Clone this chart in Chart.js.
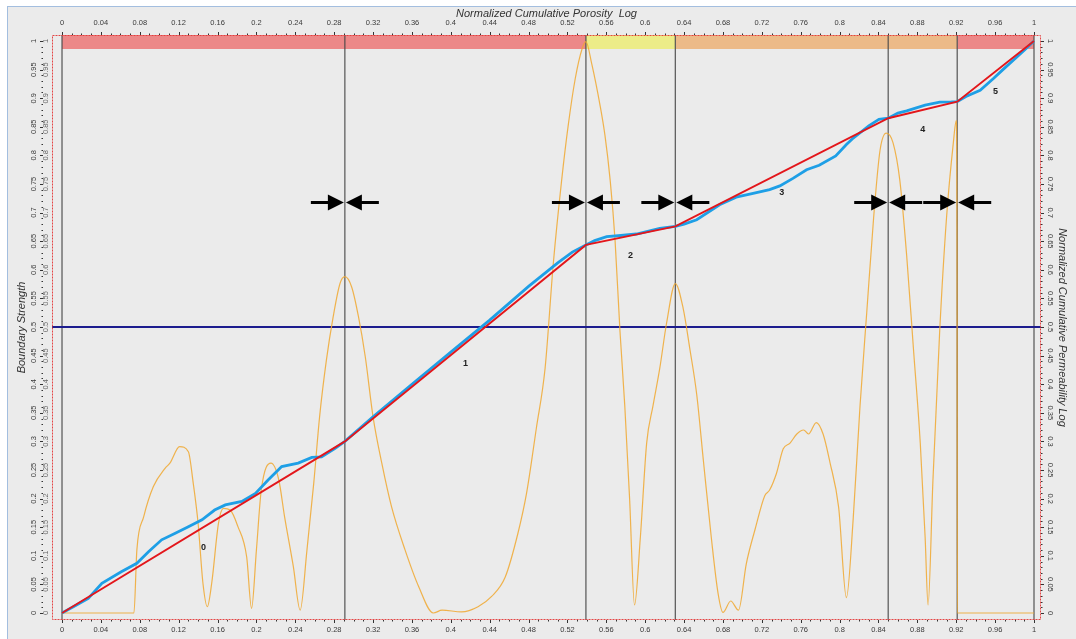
<!DOCTYPE html>
<html>
<head>
<meta charset="utf-8">
<script src="https://cdn.jsdelivr.net/npm/chart.js@4/dist/chart.umd.min.js"></script>
<style>
  html, body { margin: 0; padding: 0; background: #ffffff; overflow: hidden; }
  #panel { position: absolute; left: 7px; top: 6px; width: 1100px; height: 700px; background: #EBEBEB; border: 1px solid #A3BEDF; }
  #wrap { position: absolute; left: 0; top: 0; width: 1076px; height: 639px; }
</style>
</head>
<body>
<div id="panel"></div>
<div id="wrap"><canvas id="chart" width="1076" height="639"></canvas></div>
<script>
// Tick labels
const xTickLabels = ['0','0.04','0.08','0.12','0.16','0.2','0.24','0.28','0.32','0.36','0.4','0.44','0.48',
  '0.52','0.56','0.6','0.64','0.68','0.72','0.76','0.8','0.84','0.88','0.92','0.96','1'];
const yTickLabels = ['0','0.05','0.1','0.15','0.2','0.25','0.3','0.35','0.4','0.45','0.5',
  '0.55','0.6','0.65','0.7','0.75','0.8','0.85','0.9','0.95','1'];

// Zone boundaries (picked breaks) and the fitted piecewise-linear trend
const boundaryX = [0, 0.291, 0.539, 0.631, 0.850, 0.921, 1];
const boundaryY = [0, 0.300, 0.6435, 0.676, 0.865, 0.894, 1];
const segmentNames = ['0', '1', '2', '3', '4', '5'];

// Zone colour strip
const zoneStart = [0, 0.539, 0.631, 0.921];
const zoneEnd = [0.539, 0.631, 0.921, 1];
const zoneColors = ['#EC8888', '#ECEC88', '#ECBA88', '#EC8888'];

// Cumulative porosity (x) vs cumulative permeability (y)
const cumPorosity = [0, 0.014, 0.027, 0.041, 0.061, 0.077, 0.089, 0.1025, 0.116, 0.130,
  0.144, 0.157, 0.168, 0.185, 0.199, 0.212, 0.226, 0.243, 0.257, 0.267,
  0.281, 0.291, 0.32, 0.36, 0.40, 0.44, 0.48, 0.51, 0.525, 0.539,
  0.548, 0.5604, 0.575, 0.591, 0.615, 0.631, 0.640, 0.653, 0.6765, 0.6936,
  0.711, 0.728, 0.7385, 0.752, 0.766, 0.779, 0.796, 0.807, 0.813, 0.830,
  0.8405, 0.850, 0.860, 0.869, 0.888, 0.903, 0.915, 0.921, 0.930, 0.9446,
  0.958, 0.968, 0.979, 0.99, 1];
const cumPermeability = [0, 0.013, 0.0257, 0.052, 0.072, 0.087, 0.107, 0.128, 0.139, 0.151,
  0.163, 0.180, 0.189, 0.195, 0.209, 0.2325, 0.256, 0.262, 0.272, 0.273,
  0.288, 0.300, 0.343, 0.400, 0.456, 0.512, 0.571, 0.612, 0.631, 0.6435,
  0.651, 0.658, 0.660, 0.6626, 0.6724, 0.676, 0.680, 0.6876, 0.7138, 0.727,
  0.7335, 0.7401, 0.7467, 0.7598, 0.7749, 0.7828, 0.7992, 0.8189, 0.8287, 0.8517,
  0.863, 0.865, 0.874, 0.878, 0.888, 0.893, 0.8935, 0.894, 0.903, 0.914,
  0.934, 0.950, 0.9668, 0.984, 1];

// Boundary strength curve
const strengthX = [0, 0.074, 0.077, 0.084, 0.094, 0.106, 0.111, 0.121, 0.130, 0.135,
  0.140, 0.145, 0.1495, 0.154, 0.161, 0.166, 0.173, 0.181, 0.190, 0.195,
  0.200, 0.205, 0.215, 0.223, 0.229, 0.238, 0.245, 0.252, 0.259, 0.265,
  0.272, 0.279, 0.286, 0.291, 0.298, 0.305, 0.312, 0.320, 0.329, 0.339,
  0.353, 0.367, 0.382, 0.391, 0.411, 0.428, 0.442, 0.456, 0.469, 0.478,
  0.488, 0.497, 0.5055, 0.514, 0.521, 0.528, 0.535, 0.539, 0.545, 0.5535,
  0.5586, 0.564, 0.569, 0.574, 0.579, 0.584, 0.589, 0.595, 0.6015, 0.608,
  0.615, 0.622, 0.631, 0.639, 0.646, 0.653, 0.660, 0.668, 0.675, 0.680,
  0.688, 0.696, 0.704, 0.713, 0.723, 0.728, 0.735, 0.742, 0.749, 0.756,
  0.763, 0.768, 0.776, 0.783, 0.790, 0.799, 0.807, 0.814, 0.821, 0.828,
  0.835, 0.8416, 0.848, 0.855, 0.862, 0.869, 0.876, 0.883, 0.888, 0.891,
  0.896, 0.903, 0.910, 0.917, 0.920, 0.9208, 0.9212, 1];
const strengthY = [0, 0, 0.110, 0.168, 0.221, 0.253, 0.262, 0.291, 0.282, 0.227,
  0.157, 0.052, 0.011, 0.052, 0.157, 0.183, 0.180, 0.151, 0.098, 0.008,
  0.110, 0.215, 0.262, 0.233, 0.168, 0.081, 0.005, 0.110, 0.227, 0.343,
  0.442, 0.518, 0.576, 0.588, 0.570, 0.518, 0.448, 0.343, 0.262, 0.186,
  0.110, 0.046, 0.0, 0.005, 0.002, 0.011, 0.029, 0.063, 0.139, 0.210,
  0.323, 0.428, 0.612, 0.756, 0.855, 0.934, 0.986, 0.999, 0.960, 0.888,
  0.835, 0.756, 0.651, 0.494, 0.362, 0.198, 0.014, 0.132, 0.297, 0.362,
  0.428, 0.507, 0.576, 0.533, 0.461, 0.382, 0.264, 0.132, 0.034, 0.001,
  0.021, 0.005, 0.086, 0.146, 0.205, 0.215, 0.244, 0.287, 0.297, 0.313,
  0.320, 0.313, 0.333, 0.313, 0.264, 0.185, 0.027, 0.165, 0.362, 0.527,
  0.691, 0.809, 0.839, 0.822, 0.756, 0.625, 0.461, 0.297, 0.132, 0.014,
  0.231, 0.494, 0.691, 0.822, 0.861, 0.650, 0, 0];

const threshold = 0.5;
const arrowLevel = 0.7185;

// Visible window of the plot frame
const X_MIN = -0.0103, X_MAX = 1.0072;
const Y_MIN = -0.0122, Y_MAX = 1.0105;
const STRIP_BOTTOM = 0.986;

const FONT = 'Liberation Sans, Arial, Helvetica, sans-serif';
const tickFont = { family: FONT, size: 7.5 };
const titleFont = { family: FONT, size: 11, style: 'italic' };

const xTickValues = xTickLabels.map(Number);
const yTickValues = yTickLabels.map(Number);
const pts = (xs, ys) => xs.map((x, i) => ({ x: x, y: ys[i] }));
const fixTicks = vals => scale => { scale.ticks = vals.map(v => ({ value: v })); };

const datasets = [];

// trend segments (on top)
datasets.push({
  data: pts(boundaryX, boundaryY), borderColor: '#E3161B', borderWidth: 1.9, order: 1
});
// measured cumulative curve
datasets.push({
  data: pts(cumPorosity, cumPermeability), borderColor: '#1E9FE6', borderWidth: 2.8, order: 2
});
// boundary strength
datasets.push({
  data: pts(strengthX, strengthY), borderColor: 'rgba(240,168,48,0.85)', borderWidth: 1.2,
  cubicInterpolationMode: 'monotone', order: 4
});
// threshold line
datasets.push({
  data: [{ x: X_MIN, y: threshold }, { x: X_MAX, y: threshold }],
  borderColor: '#1C1C8E', borderWidth: 2, order: 5
});
// zone boundary verticals
boundaryX.forEach(b => {
  datasets.push({
    data: [{ x: b, y: Y_MIN }, { x: b, y: Y_MAX }],
    borderColor: 'rgba(70,70,70,0.85)', borderWidth: 1.3, order: 6
  });
});
// zone colour strip
zoneStart.forEach((s, i) => {
  datasets.push({
    data: [{ x: s, y: Y_MAX }, { x: zoneEnd[i], y: Y_MAX }],
    borderWidth: 0, borderColor: 'rgba(0,0,0,0)', backgroundColor: zoneColors[i],
    fill: { value: STRIP_BOTTOM }, order: 9
  });
});

const overlay = {
  id: 'overlay',
  afterDatasetsDraw(chart) {
    const { ctx, chartArea: a } = chart;
    const xs = chart.scales.x, ys = chart.scales.y;
    ctx.save();

    // arrows pointing at every internal boundary
    const ay = Math.round(ys.getPixelForValue(arrowLevel)) + 0.5;
    ctx.fillStyle = '#000';
    ctx.strokeStyle = '#000';
    const arrow = (tip, dir) => {
      ctx.beginPath();
      ctx.lineWidth = 3;
      ctx.moveTo(tip - dir * 33, ay);
      ctx.lineTo(tip - dir * 13, ay);
      ctx.stroke();
      ctx.beginPath();
      ctx.moveTo(tip, ay);
      ctx.lineTo(tip - dir * 16, ay - 8);
      ctx.lineTo(tip - dir * 16, ay + 8);
      ctx.closePath();
      ctx.fill();
    };
    boundaryX.slice(1, -1).forEach(b => {
      const bx = xs.getPixelForValue(b);
      arrow(bx - 1, 1);
      arrow(bx + 1, -1);
    });

    // segment numbers under each trend segment
    ctx.font = 'bold 9px ' + FONT;
    ctx.fillStyle = '#222';
    ctx.textAlign = 'center';
    ctx.textBaseline = 'middle';
    segmentNames.forEach((name, i) => {
      const mx = (boundaryX[i] + boundaryX[i + 1]) / 2;
      const my = (boundaryY[i] + boundaryY[i + 1]) / 2;
      ctx.fillText(name, xs.getPixelForValue(mx), ys.getPixelForValue(my) + 20);
    });

    // dotted red frame
    ctx.strokeStyle = 'rgba(228,60,60,0.95)';
    ctx.lineWidth = 1;
    ctx.setLineDash([2, 1]);
    ctx.strokeRect(Math.round(a.left) + 0.5, Math.round(a.top) + 0.5,
      Math.round(a.right - a.left) - 1, Math.round(a.bottom - a.top) - 1);
    ctx.setLineDash([]);

    // minor ticks
    ctx.strokeStyle = '#333';
    ctx.lineWidth = 1;
    ctx.beginPath();
    for (let k = 0; k <= 100; k++) {
      const v = k / 100;
      const major = k % 4 === 0;
      const px = Math.round(xs.getPixelForValue(v)) + 0.5;
      const len = major ? 3 : 1.5;
      ctx.moveTo(px, a.bottom); ctx.lineTo(px, a.bottom + len);
      ctx.moveTo(px, a.top); ctx.lineTo(px, a.top - len);
      const ymaj = k % 5 === 0;
      const py = Math.round(ys.getPixelForValue(v)) + 0.5;
      const yl = ymaj ? 3 : 1.5;
      ctx.moveTo(a.right, py); ctx.lineTo(a.right + yl, py);
      ctx.moveTo(a.left - 9, py); ctx.lineTo(a.left - 9 - yl, py);
    }
    ctx.stroke();
    ctx.restore();
  }
};

const tickCommon = { autoSkip: false, font: tickFont, color: '#3a3a3a' };

new Chart(document.getElementById('chart'), {
  type: 'scatter',
  data: { datasets: datasets },
  options: {
    responsive: false,
    animation: false,
    showLine: true,
    layout: { padding: 0 },
    elements: { point: { radius: 0, hoverRadius: 0 }, line: { tension: 0 } },
    plugins: { legend: { display: false }, tooltip: { enabled: false } },
    scales: {
      x: {
        type: 'linear', position: 'bottom', min: X_MIN, max: X_MAX,
        afterBuildTicks: fixTicks(xTickValues),
        afterFit: s => { s.height = 19; },
        ticks: Object.assign({}, tickCommon, { maxRotation: 0, minRotation: 0, padding: 5,
          callback: (v, i) => xTickLabels[i] }),
        grid: { drawOnChartArea: false, drawTicks: false },
        border: { display: false }
      },
      x2: {
        type: 'linear', position: 'top', min: X_MIN, max: X_MAX,
        afterBuildTicks: fixTicks(xTickValues),
        afterFit: s => { s.height = 35; },
        ticks: Object.assign({}, tickCommon, { maxRotation: 0, minRotation: 0, padding: 8,
          callback: (v, i) => xTickLabels[i] }),
        grid: { drawOnChartArea: false, drawTicks: false },
        border: { display: false },
        title: { display: true, text: 'Normalized Cumulative Porosity  Log', font: titleFont,
          color: '#333', padding: { top: 7, bottom: 0 } }
      },
      y: {
        type: 'linear', position: 'left', weight: 1, min: Y_MIN, max: Y_MAX,
        afterBuildTicks: fixTicks(yTickValues),
        afterFit: s => { s.width = 43; },
        ticks: Object.assign({}, tickCommon, { minRotation: 90, maxRotation: 90, crossAlign: 'center',
          padding: 2, callback: (v, i) => yTickLabels[i] }),
        grid: { drawOnChartArea: false, drawTicks: false },
        border: { display: false },
        title: { display: true, text: 'Boundary Strength', font: titleFont, color: '#333',
          padding: { top: 15, bottom: 0 } }
      },
      yIn: {
        type: 'linear', position: 'left', weight: 0, min: Y_MIN, max: Y_MAX,
        afterBuildTicks: fixTicks(yTickValues),
        afterFit: s => { s.width = 9; },
        ticks: Object.assign({}, tickCommon, { color: '#666', minRotation: 90, maxRotation: 90,
          crossAlign: 'center', padding: -1, callback: (v, i) => yTickLabels[i] }),
        grid: { drawOnChartArea: false, drawTicks: false },
        border: { display: false }
      },
      yR: {
        type: 'linear', position: 'right', min: Y_MIN, max: Y_MAX,
        afterBuildTicks: fixTicks(yTickValues),
        afterFit: s => { s.width = 35; },
        ticks: Object.assign({}, tickCommon, { minRotation: -90, maxRotation: -90, crossAlign: 'center',
          padding: 2, callback: (v, i) => yTickLabels[i] }),
        grid: { drawOnChartArea: false, drawTicks: false },
        border: { display: false },
        title: { display: true, text: 'Normalized Cumulative Permeability Log', font: titleFont,
          color: '#333', padding: { top: 7, bottom: 0 } }
      }
    }
  },
  plugins: [overlay]
});
</script>
</body>
</html>
